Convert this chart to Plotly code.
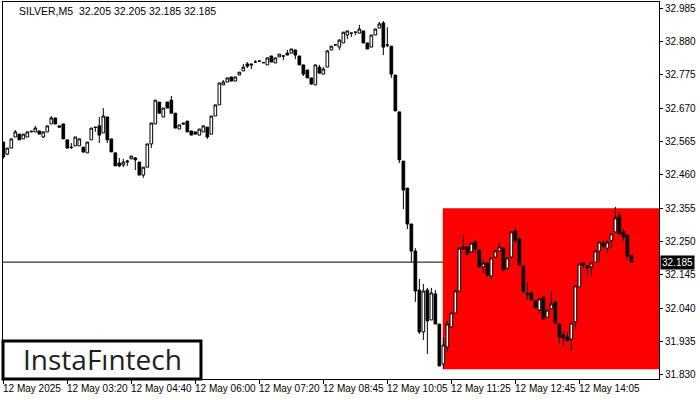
import plotly.graph_objects as go

# ---- data ----
open_ = [
32.563, 32.525, 32.544, 32.579, 32.588, 32.573, 32.579, 32.595, 32.595, 32.598,
32.579, 32.595, 32.620, 32.639, 32.614, 32.620, 32.570, 32.547, 32.551, 32.551,
32.547, 32.529, 32.570, 32.610, 32.614, 32.592, 32.642, 32.573, 32.529, 32.497,
32.491, 32.500, 32.510, 32.513, 32.500, 32.459, 32.484, 32.557, 32.620, 32.689,
32.642, 32.689, 32.695, 32.654, 32.604, 32.623, 32.629, 32.598, 32.595, 32.585,
32.595, 32.610, 32.588, 32.645, 32.680, 32.743, 32.752, 32.768, 32.755, 32.774,
32.787, 32.809, 32.809, 32.815, 32.818, 32.813, 32.806, 32.834, 32.812, 32.831,
32.834, 32.843, 32.843, 32.853, 32.834, 32.806, 32.790, 32.765, 32.743, 32.799,
32.777, 32.799, 32.853, 32.869, 32.862, 32.875, 32.900, 32.906, 32.909, 32.906,
32.913, 32.875, 32.862, 32.900, 32.922, 32.938, 32.869, 32.865, 32.774, 32.658,
32.503, 32.418, 32.305, 32.220, 32.097, 31.965, 32.097, 32.003, 32.085, 31.990,
31.864, 31.918, 31.981, 32.025, 32.094, 32.233, 32.233, 32.217, 32.248, 32.223,
32.170, 32.182, 32.141, 32.201, 32.220, 32.229, 32.166, 32.201, 32.283, 32.258,
32.173, 32.088, 32.088, 32.063, 32.034, 32.075, 32.012, 32.038, 32.060, 31.990,
31.956, 31.949, 31.943, 31.997, 32.107, 32.182, 32.173, 32.170, 32.185, 32.220,
32.245, 32.229, 32.252, 32.280, 32.330, 32.280, 32.270, 32.205,
]
high = [
32.563, 32.544, 32.573, 32.601, 32.588, 32.588, 32.595, 32.598, 32.614, 32.598,
32.595, 32.614, 32.645, 32.639, 32.614, 32.620, 32.570, 32.560, 32.579, 32.573,
32.547, 32.563, 32.607, 32.611, 32.642, 32.670, 32.642, 32.573, 32.529, 32.513,
32.510, 32.507, 32.519, 32.516, 32.500, 32.484, 32.557, 32.623, 32.695, 32.689,
32.670, 32.689, 32.708, 32.654, 32.617, 32.623, 32.629, 32.598, 32.595, 32.604,
32.614, 32.610, 32.645, 32.680, 32.749, 32.758, 32.765, 32.768, 32.768, 32.783,
32.809, 32.815, 32.809, 32.821, 32.818, 32.814, 32.828, 32.834, 32.828, 32.840,
32.835, 32.853, 32.856, 32.853, 32.834, 32.806, 32.790, 32.765, 32.806, 32.806,
32.799, 32.853, 32.865, 32.869, 32.887, 32.909, 32.913, 32.906, 32.909, 32.932,
32.913, 32.875, 32.900, 32.919, 32.941, 32.944, 32.925, 32.865, 32.774, 32.658,
32.503, 32.418, 32.305, 32.229, 32.132, 32.116, 32.104, 32.104, 32.097, 31.990,
31.949, 32.000, 32.025, 32.094, 32.229, 32.270, 32.233, 32.245, 32.258, 32.223,
32.195, 32.182, 32.198, 32.220, 32.245, 32.229, 32.198, 32.280, 32.293, 32.264,
32.173, 32.122, 32.094, 32.063, 32.069, 32.075, 32.034, 32.094, 32.060, 31.990,
31.968, 31.965, 31.993, 32.110, 32.179, 32.182, 32.173, 32.182, 32.220, 32.248,
32.255, 32.255, 32.274, 32.359, 32.343, 32.289, 32.274, 32.205,
]
low = [
32.510, 32.522, 32.544, 32.579, 32.570, 32.573, 32.579, 32.595, 32.595, 32.588,
32.576, 32.595, 32.620, 32.620, 32.610, 32.573, 32.544, 32.541, 32.551, 32.551,
32.529, 32.529, 32.570, 32.595, 32.560, 32.592, 32.560, 32.532, 32.488, 32.484,
32.484, 32.488, 32.510, 32.475, 32.459, 32.450, 32.484, 32.544, 32.620, 32.654,
32.642, 32.670, 32.654, 32.607, 32.604, 32.620, 32.595, 32.585, 32.588, 32.585,
32.595, 32.573, 32.588, 32.645, 32.680, 32.743, 32.752, 32.755, 32.755, 32.774,
32.787, 32.796, 32.793, 32.813, 32.817, 32.812, 32.806, 32.815, 32.812, 32.831,
32.821, 32.837, 32.843, 32.824, 32.806, 32.771, 32.765, 32.743, 32.743, 32.780,
32.777, 32.799, 32.853, 32.868, 32.853, 32.875, 32.887, 32.894, 32.900, 32.906,
32.875, 32.856, 32.862, 32.900, 32.922, 32.837, 32.862, 32.765, 32.661, 32.497,
32.352, 32.289, 32.185, 32.060, 31.959, 31.940, 31.896, 32.003, 31.990, 31.858,
31.849, 31.902, 31.978, 32.025, 32.094, 32.226, 32.204, 32.214, 32.214, 32.170,
32.151, 32.138, 32.126, 32.201, 32.220, 32.160, 32.160, 32.195, 32.245, 32.176,
32.091, 32.066, 32.066, 32.041, 32.025, 32.006, 32.012, 32.038, 31.993, 31.924,
31.921, 31.937, 31.905, 31.975, 32.107, 32.166, 32.141, 32.141, 32.185, 32.185,
32.229, 32.214, 32.229, 32.280, 32.274, 32.252, 32.192, 32.185,
]
close = [
32.516, 32.544, 32.573, 32.595, 32.570, 32.588, 32.595, 32.597, 32.607, 32.588,
32.595, 32.614, 32.639, 32.620, 32.610, 32.573, 32.544, 32.546, 32.579, 32.573,
32.532, 32.563, 32.607, 32.609, 32.585, 32.645, 32.570, 32.532, 32.488, 32.488,
32.500, 32.503, 32.519, 32.507, 32.459, 32.484, 32.557, 32.623, 32.695, 32.654,
32.670, 32.670, 32.654, 32.607, 32.617, 32.620, 32.595, 32.585, 32.588, 32.604,
32.614, 32.579, 32.645, 32.680, 32.749, 32.752, 32.765, 32.755, 32.768, 32.783,
32.799, 32.802, 32.806, 32.815, 32.818, 32.813, 32.828, 32.815, 32.828, 32.840,
32.834, 32.837, 32.856, 32.837, 32.806, 32.777, 32.765, 32.746, 32.806, 32.780,
32.793, 32.850, 32.865, 32.869, 32.884, 32.909, 32.913, 32.906, 32.909, 32.919,
32.875, 32.856, 32.900, 32.919, 32.935, 32.862, 32.868, 32.777, 32.661, 32.507,
32.412, 32.305, 32.220, 32.094, 31.965, 32.094, 32.000, 32.088, 31.990, 31.858,
31.924, 31.990, 32.025, 32.094, 32.229, 32.226, 32.211, 32.245, 32.226, 32.170,
32.182, 32.144, 32.198, 32.220, 32.233, 32.160, 32.198, 32.280, 32.252, 32.176,
32.091, 32.082, 32.066, 32.041, 32.069, 32.006, 32.034, 32.053, 31.993, 31.949,
31.946, 31.937, 31.993, 32.110, 32.179, 32.176, 32.166, 32.182, 32.220, 32.248,
32.236, 32.248, 32.274, 32.324, 32.274, 32.264, 32.204, 32.185,
]
bar_index = list(range(len(close)))

x_tick_index = [0, 16, 32, 48, 64, 80, 96, 112, 128, 144]
x_tick_labels = ["12 May 2025", "12 May 03:20", "12 May 04:40", "12 May 06:00",
                 "12 May 07:20", "12 May 08:45", "12 May 10:05", "12 May 11:25",
                 "12 May 12:45", "12 May 14:05"]
y_ticks = [31.830, 31.935, 32.040, 32.145, 32.250, 32.355, 32.460, 32.565,
           32.670, 32.775, 32.880, 32.985]
y_tick_labels = ["31.830", "31.935", "32.040", "32.145", "32.250", "32.355",
                 "32.460", "32.565", "32.670", "32.775", "32.880", "32.985"]

title_text = "SILVER,M5  32.205 32.205 32.185 32.185"
current_price = 32.185
zone_start = 109.85
zone_end = 163.9
zone_top = 32.355
zone_bottom = 31.848

FONT = "Liberation Sans"

fig = go.Figure(go.Candlestick(
    x=bar_index, open=open_, high=high, low=low, close=close,
    increasing=dict(line=dict(color="black", width=1), fillcolor="white"),
    decreasing=dict(line=dict(color="black", width=1), fillcolor="black"),
    whiskerwidth=0, showlegend=False, hoverinfo="skip",
))

shapes = [
    dict(type="rect", xref="x", yref="y", x0=zone_start, x1=zone_end,
         y0=zone_bottom, y1=zone_top,
         fillcolor="#FF0000", line=dict(width=0), layer="below"),
    dict(type="line", xref="paper", yref="y", x0=0, x1=1, y0=current_price, y1=current_price,
         line=dict(color="black", width=1), layer="below"),
    dict(type="rect", xref="paper", yref="paper", x0=0.0, x1=0.3018, y0=0.0, y1=0.1008,
         fillcolor="white", line=dict(color="black", width=3), layer="above"),
]

annotations = [
    dict(text=title_text, xref="paper", yref="paper", x=0.021, y=0.997,
         xanchor="left", yanchor="top", showarrow=False,
         font=dict(family=FONT, size=10.5, color="black")),
    dict(text="InstaF\u0131ntech", xref="paper", yref="paper", x=0.152, y=0.052,
         xanchor="center", yanchor="middle", showarrow=False,
         font=dict(family="Open Sans", size=28, color="#1e1e1e", weight=500)),
    dict(text="32.185", xref="paper", yref="y", x=1, y=current_price,
         xanchor="left", yanchor="middle", xshift=1, showarrow=False,
         bgcolor="black", borderpad=1,
         font=dict(family=FONT, size=10, color="white")),
]
for xi, lab in zip(x_tick_index, x_tick_labels):
    annotations.append(dict(text=lab, xref="x", yref="paper", x=xi, y=0,
                            xanchor="left", yanchor="top", yshift=-2, xshift=-2,
                            showarrow=False,
                            font=dict(family=FONT, size=10, color="black")))

fig.update_layout(
    width=700, height=400,
    margin=dict(l=3, r=41, t=2, b=21),
    paper_bgcolor="white", plot_bgcolor="white",
    boxgap=0.05,
    shapes=shapes, annotations=annotations,
    xaxis=dict(range=[-0.075, 163.9], rangeslider=dict(visible=False),
               showgrid=False, zeroline=False, showline=True, linecolor="black",
               linewidth=1, mirror=True, tickvals=x_tick_index,
               showticklabels=False, ticks="outside", ticklen=4,
               tickcolor="black", tickwidth=1),
    yaxis=dict(range=[31.817, 33.004], side="right", showgrid=False,
               zeroline=False, showline=True, linecolor="black", linewidth=1,
               mirror=True, tickvals=y_ticks, ticktext=y_tick_labels,
               ticks="outside", ticklen=3, tickcolor="black",
               tickfont=dict(family=FONT, size=10, color="black")),
    font=dict(family=FONT, size=10, color="black"),
)

fig.write_html("out.html", config={"displayModeBar": False},
               post_script="document.body.style.margin='0';")
